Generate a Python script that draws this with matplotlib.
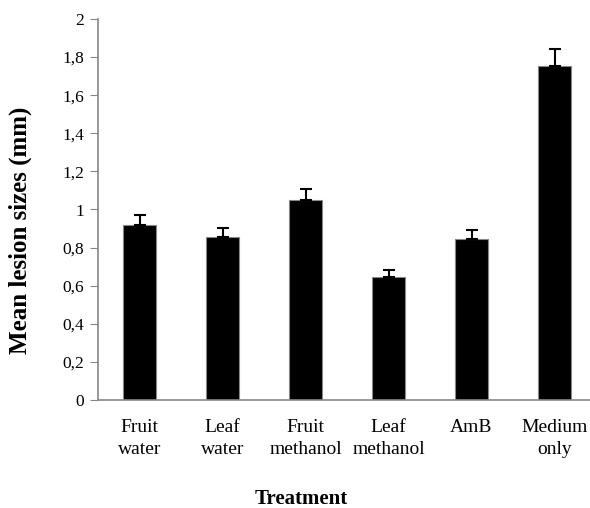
import matplotlib
matplotlib.use('Agg')
import matplotlib.pyplot as plt
import numpy as np

# data
treatments = ['Fruit\nwater', 'Leaf\nwater', 'Fruit\nmethanol', 'Leaf\nmethanol', 'AmB', 'Medium\nonly']
lesion_means = [0.92, 0.856, 1.051, 0.645, 0.843, 1.753]
lesion_err = [0.05, 0.045, 0.055, 0.037, 0.048, 0.091]
yticks = [0, 0.2, 0.4, 0.6, 0.8, 1.0, 1.2, 1.4, 1.6, 1.8, 2.0]
ytick_labels = ['0', '0,2', '0,4', '0,6', '0,8', '1', '1,2', '1,4', '1,6', '1,8', '2']

plt.rcParams['font.family'] = ['Liberation Serif', 'DejaVu Serif']

fig = plt.figure(figsize=(5.9, 5.08), dpi=100)
ax = fig.add_axes([98 / 590, 108 / 508, 498 / 590, 381 / 508])

x = np.arange(len(treatments))
ax.bar(x, lesion_means, width=0.4, color='black', edgecolor='#888888', linewidth=0.8,
       yerr=[np.zeros(len(lesion_err)), lesion_err], capsize=4,
       error_kw=dict(ecolor='black', elinewidth=1.5, capthick=1.5))

ax.set_xlim(-0.5, 5.5)
ax.set_ylim(0, 2)
ax.set_yticks(yticks)
ax.set_yticklabels(ytick_labels, fontsize=12.5)
ax.set_xticks(x)
ax.set_xticklabels(treatments, fontsize=14, linespacing=1.35)
ax.tick_params(axis='x', length=0, pad=14)
ax.tick_params(axis='y', length=6, color='#888888', pad=4)

for s in ['top', 'right']:
    ax.spines[s].set_visible(False)
for s in ['left', 'bottom']:
    ax.spines[s].set_color('#888888')
    ax.spines[s].set_linewidth(1.2)

fig.text(20 / 590, 1 - 230 / 508, 'Mean lesion sizes (mm)', fontsize=18, fontweight='bold',
         rotation=90, ha='center', va='center')
fig.text(301 / 590, 1 - 499 / 508, 'Treatment', fontsize=15, fontweight='bold',
         ha='center', va='center')

fig.savefig('out.png', dpi=100)
